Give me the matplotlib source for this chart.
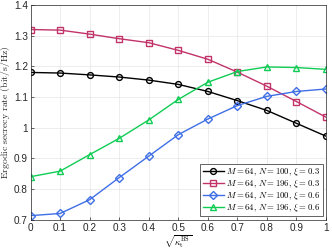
import matplotlib

matplotlib.use("Agg")
import matplotlib.pyplot as plt

plt.rcParams["mathtext.fontset"] = "cm"
plt.rcParams["font.family"] = ["Liberation Sans", "DejaVu Sans"]

# 横轴：sqrt(kappa_t^BS)
x = [0, 0.1, 0.2, 0.3, 0.4, 0.5, 0.6, 0.7, 0.8, 0.9, 1.0]

rate_n100_xi03 = [1.180, 1.178, 1.172, 1.165, 1.155, 1.141, 1.118, 1.088, 1.056, 1.014, 0.972]
rate_n196_xi03 = [1.320, 1.318, 1.305, 1.290, 1.277, 1.252, 1.223, 1.181, 1.135, 1.085, 1.034]
rate_n100_xi06 = [0.713, 0.720, 0.765, 0.837, 0.907, 0.977, 1.028, 1.072, 1.102, 1.118, 1.126]
rate_n196_xi06 = [0.840, 0.858, 0.912, 0.965, 1.025, 1.092, 1.148, 1.183, 1.198, 1.196, 1.190]

labels = [
    r"$M=64,\, N=100,\, \xi=0.3$",
    r"$M=64,\, N=196,\, \xi=0.3$",
    r"$M=64,\, N=100,\, \xi=0.6$",
    r"$M=64,\, N=196,\, \xi=0.6$",
]
series = [rate_n100_xi03, rate_n196_xi03, rate_n100_xi06, rate_n196_xi06]
colors = ["#000000", "#C2336A", "#3F6FE6", "#10CC55"]
markers = ["o", "s", "D", "^"]
msizes = [4.2, 4.0, 3.6, 4.6]

fig = plt.figure(figsize=(3.32, 2.49), dpi=100)
ax = fig.add_axes([0.092, 0.118, 0.89, 0.862])

for y, lab, c, m, ms in zip(series, labels, colors, markers, msizes):
    ax.plot(x, y, color=c, marker=m, ms=ms, mfc="none", mec=c, mew=1.0,
            lw=1.0, label=lab)

ax.set_xlim(0, 1)
ax.set_ylim(0.7, 1.4)
ax.set_xticks(x)
ax.set_xticklabels(["0", "0.1", "0.2", "0.3", "0.4", "0.5", "0.6", "0.7", "0.8", "0.9", "1"])
ax.set_yticks([0.7, 0.8, 0.9, 1.0, 1.1, 1.2, 1.3, 1.4])
ax.set_yticklabels(["0.7", "0.8", "0.9", "1", "1.1", "1.2", "1.3", "1.4"])
ax.tick_params(labelsize=7.2, colors="#262626", direction="in", length=2, width=0.5, pad=2.5)
ax.tick_params(axis="y", pad=2)
ax.grid(True, color="#e6e6e6", lw=0.5)
ax.set_axisbelow(True)
for s in ax.spines.values():
    s.set_color("#262626")
    s.set_linewidth(0.5)

ax.set_xlabel(r"$\sqrt{\kappa_{\rm t}^{\rm BS}}$", fontsize=6.5, labelpad=0.5)
fig.text(0.016, 0.55, r"$\mathrm{Ergodic\ secrecy\ rate\ (bit/s/Hz)}$", fontsize=7.0,
         rotation=90, ha="center", va="center", color="#262626")

leg = ax.legend(loc="lower right", fontsize=6.3, handlelength=2.4, handletextpad=0.3,
                labelspacing=0.0, borderpad=0.25, borderaxespad=0.4,
                fancybox=False, framealpha=1)
leg.get_frame().set_edgecolor("#262626")
leg.get_frame().set_linewidth(0.5)

fig.savefig("out.png", dpi=100)
